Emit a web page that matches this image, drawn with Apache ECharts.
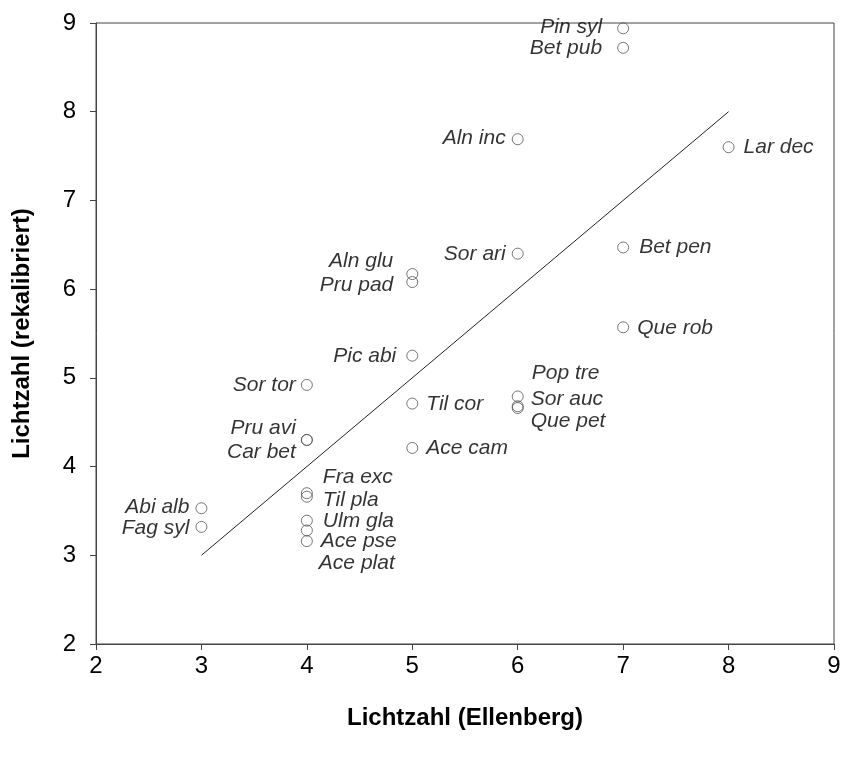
<!DOCTYPE html>
<html><head><meta charset="utf-8">
<script src="https://cdn.jsdelivr.net/npm/echarts@6/dist/echarts.min.js"></script>
<style>html,body{margin:0;padding:0;background:#fff}#c{width:843px;height:758px}</style>
</head><body><div id="c"></div>
<script>
// ---- data ----
const species = ['Pin syl','Bet pub','Aln inc','Lar dec','Sor ari','Bet pen','Aln glu','Pru pad','Que rob','Pic abi','Sor tor','Til cor','Pop tre','Sor auc','Que pet','Pru avi','Car bet','Ace cam','Fra exc','Til pla','Ulm gla','Ace pse','Ace plat','Abi alb','Fag syl'];
const ellenberg = [7,7,6,8,6,7,5,5,7,5,4,5,6,6,6,4,4,5,4,4,4,4,4,3,3];
const recalibrated = [8.94,8.72,7.69,7.60,6.40,6.47,6.17,6.08,5.57,5.25,4.92,4.71,4.79,4.68,4.66,4.30,4.30,4.21,3.70,3.66,3.39,3.28,3.16,3.53,3.32];
const fitX = [3, 8];
const fitY = [3, 8];
const tickMin = 2, tickMax = 9, tickStep = 1;

// ---- label placement (style only) ----
const labelLayout = {
  'Pin syl':['left',15,-1], 'Bet pub':['left',15,0], 'Aln inc':['left',6,-1], 'Lar dec':['right',9,0],
  'Sor ari':['left',6,0], 'Bet pen':['right',10,0], 'Aln glu':['left',13,-13], 'Pru pad':['left',13,3],
  'Que rob':['right',8,1], 'Pic abi':['left',10,0], 'Sor tor':['left',5,0], 'Til cor':['right',8,1],
  'Pop tre':['right',8,-23], 'Sor auc':['right',7,-7], 'Que pet':['right',7,13],
  'Pru avi':['left',5,-12], 'Car bet':['left',5,12], 'Ace cam':['right',8,0],
  'Fra exc':['right',10,-16], 'Til pla':['right',10,3], 'Ulm gla':['right',10,0],
  'Ace pse':['right',8,11], 'Ace plat':['right',6,22], 'Abi alb':['left',6,-1], 'Fag syl':['left',6,1]
};

const FONT = '"Liberation Sans", Arial, sans-serif';
const points = species.map((n, i) => {
  const l = labelLayout[n];
  return {
    name: n,
    value: [ellenberg[i], recalibrated[i]],
    label: { position: l[0], distance: l[1], offset: [0, l[2]] }
  };
});

const chart = echarts.init(document.getElementById('c'), null, {renderer: 'canvas'});
chart.setOption({
  animation: false,
  backgroundColor: '#fff',
  grid: { left: 96, right: 9, top: 23, bottom: 114, outerBoundsMode: 'none', containLabel: false,
          show: true, borderColor: '#444', borderWidth: 1, backgroundColor: 'transparent' },
  xAxis: {
    type: 'value', min: tickMin, max: tickMax, interval: tickStep,
    name: 'Lichtzahl (Ellenberg)', nameLocation: 'middle', nameGap: 62,
    nameTextStyle: { fontFamily: FONT, fontWeight: 'bold', fontSize: 24, color: '#000' },
    axisLine: { show: true, lineStyle: { color: '#444', width: 1 } },
    axisTick: { show: true, inside: false, length: 6, lineStyle: { color: '#444' } },
    axisLabel: { fontFamily: FONT, fontSize: 24, color: '#000', margin: 10 },
    splitLine: { show: false }
  },
  yAxis: {
    type: 'value', min: tickMin, max: tickMax, interval: tickStep,
    name: 'Lichtzahl (rekalibriert)', nameLocation: 'middle', nameGap: 62,
    nameTextStyle: { fontFamily: FONT, fontWeight: 'bold', fontSize: 24, color: '#000' },
    axisLine: { show: true, lineStyle: { color: '#444', width: 1 } },
    axisTick: { show: true, inside: false, length: 6, lineStyle: { color: '#444' } },
    axisLabel: { fontFamily: FONT, fontSize: 24, color: '#000', margin: 20 },
    splitLine: { show: false }
  },
  series: [
    {
      type: 'line', data: fitX.map((x, i) => [x, fitY[i]]), symbol: 'none',
      lineStyle: { color: '#222', width: 1 }, z: 2, silent: true
    },
    {
      type: 'scatter', data: points, symbol: 'circle', symbolSize: 11, z: 3,
      itemStyle: { color: 'rgba(0,0,0,0)', borderColor: '#555', borderWidth: 1 },
      label: {
        show: true, formatter: p => p.name,
        fontFamily: FONT, fontStyle: 'italic', fontSize: 21, color: '#000'
      }
    }
  ]
});
</script></body></html>
